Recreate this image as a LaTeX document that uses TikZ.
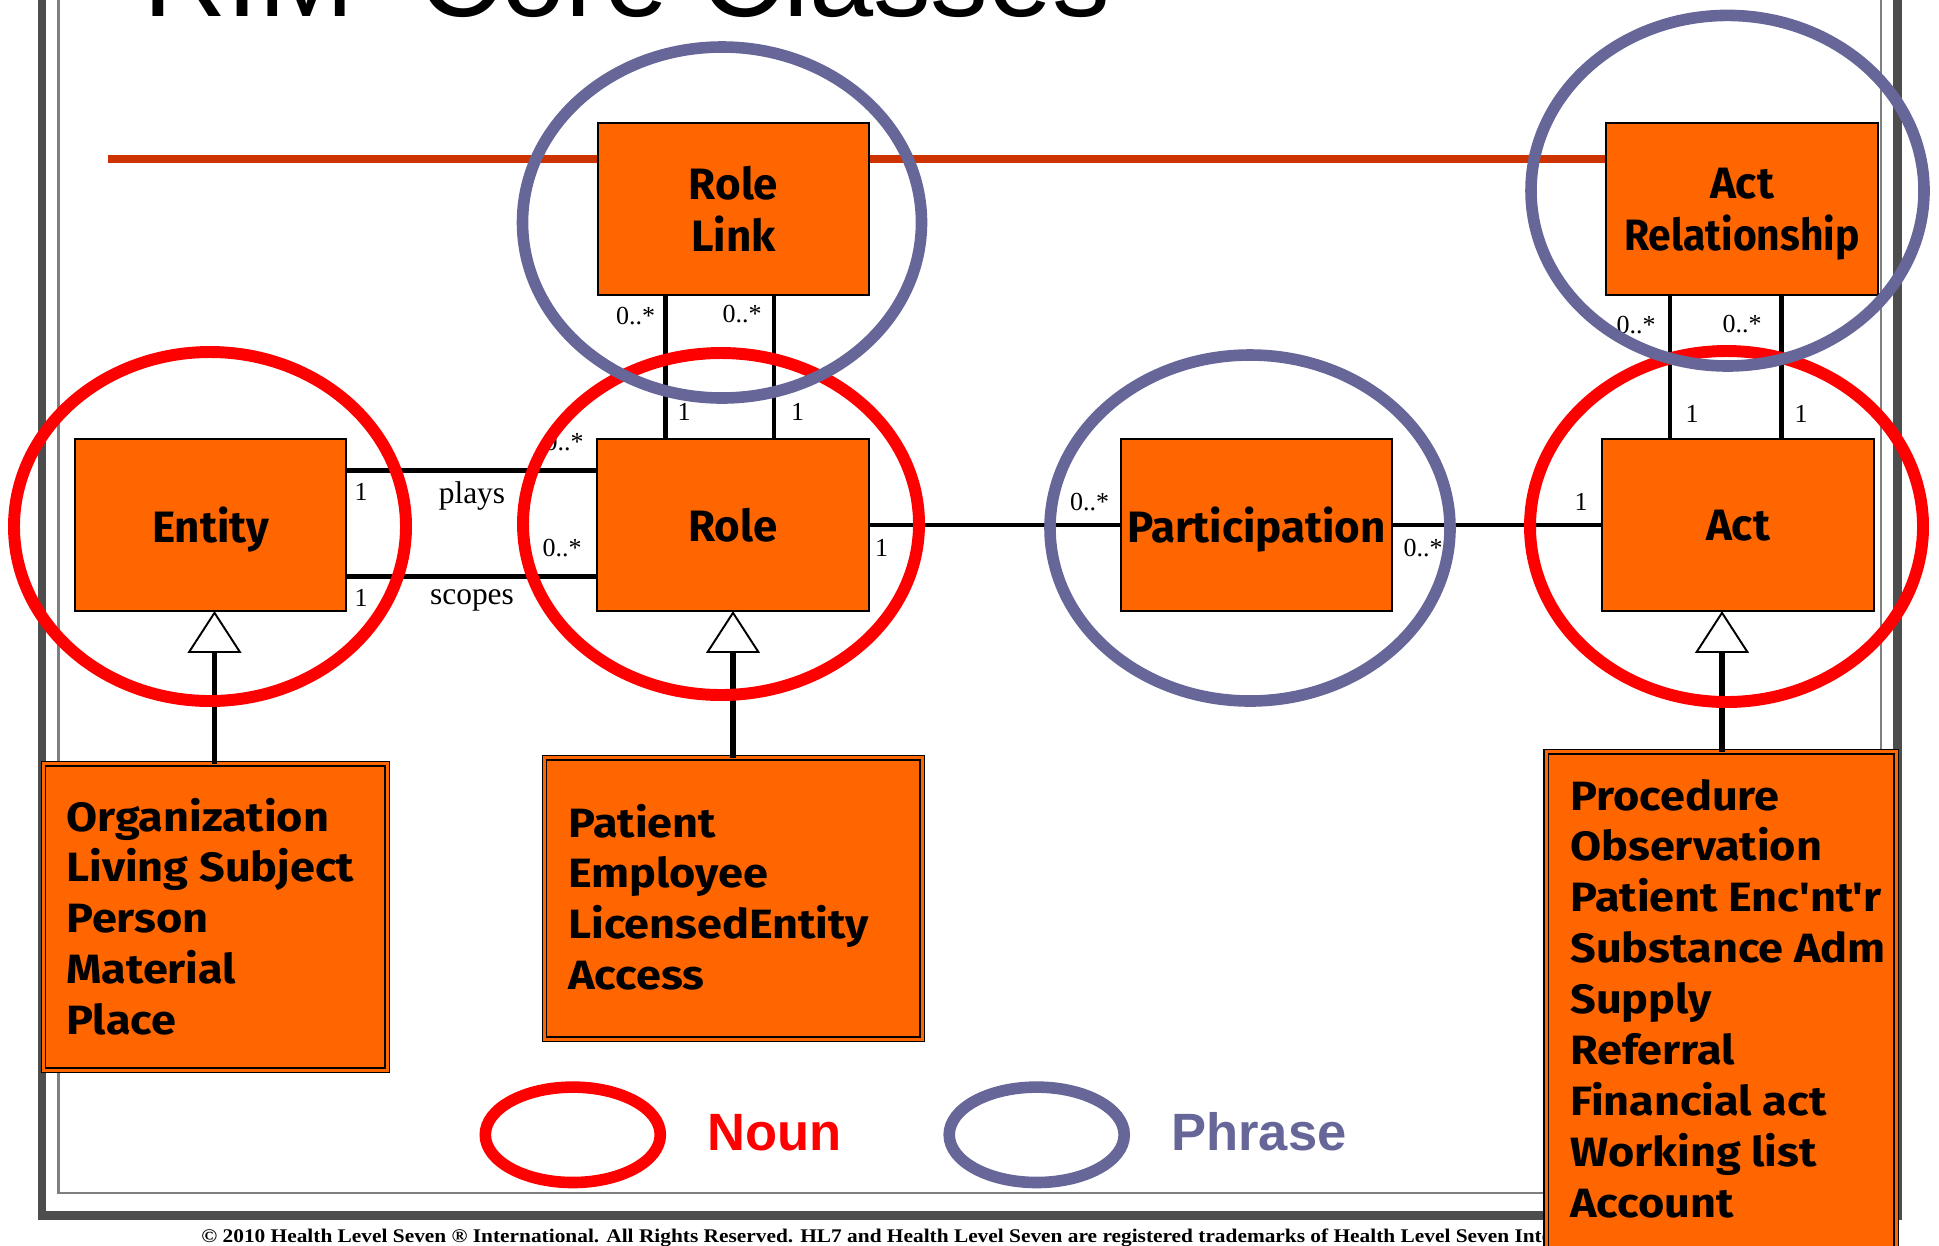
\documentclass[tikz,border=0pt]{standalone}
\usepackage{graphicx}
\usepackage{fontspec}
\setmainfont{Liberation Serif}
\newfontfamily\clsfont{Fira Sans}
\newfontfamily\legfont{Liberation Sans}
\usetikzlibrary{arrows.meta}
\definecolor{boxorange}{HTML}{FF6600}
\definecolor{nounred}{HTML}{FF0000}
\definecolor{phraseblue}{HTML}{666699}
\definecolor{rulebrown}{HTML}{CC3300}
\definecolor{framedark}{HTML}{4D4D4D}
\definecolor{framelight}{HTML}{7F7F7F}
\newcommand\listbody[1]{\scalebox{1.1}[1]{\begin{tabular}{@{}l@{}}#1\end{tabular}}}
\begin{document}
\begin{tikzpicture}[x=0.02cm,y=-0.02cm,
  cls/.style={draw=black, line width=1.14pt, fill=boxorange, outer sep=0pt,
    minimum width=5.44cm, minimum height=3.44cm, inner sep=0pt, align=center,
    font=\clsfont\bfseries\fontsize{25}{29.6}\selectfont},
  subbox/.style={draw=black, line width=0.9pt, double=boxorange, double distance=1.6pt,
    fill=boxorange, anchor=north west, outer sep=0pt, inner sep=0pt},
  subtext/.style={anchor=north west, inner sep=0pt,
    font=\clsfont\bfseries\fontsize{23.3}{29}\selectfont},
  assoc/.style={line width=2.7pt},
  gen/.style={line width=3.2pt, -{Triangle[open, fill=white, line width=1.1pt, length=23.9pt, width=30.7pt]}},
  mult/.style={inner sep=0pt, font=\fontsize{14.8}{16}\selectfont},
  rolename/.style={inner sep=0pt, anchor=base, font=\fontsize{17.9}{20}\selectfont},
  nounring/.style={draw=nounred, line width=6.8pt},
  phrasering/.style={draw=phraseblue, line width=6.6pt},
  legtext/.style={anchor=base west, inner sep=0pt, font=\legfont\bfseries\fontsize{29.9}{34}\selectfont},
]
\useasboundingbox (0,0) rectangle (1939,1245);
\clip (0,0) rectangle (1939,1245);

% slide frame
\draw[framedark, line width=5.1pt] (42,-20) -- (42,1215) -- (1897.5,1215) -- (1897.5,-20);
\draw[framelight, line width=1.2pt] (58.5,-20) -- (58.5,1193) -- (1881,1193) -- (1881,-20);

% title and rule
\draw[rulebrown, line width=4.5pt] (108,159) -- (1606,159);
\node[anchor=base west, inner sep=0pt, font=\legfont\fontsize{65.6}{70}\selectfont] (title) at (143,16.7) {RIM\ \ Core Classes};

% footer
\node[anchor=base west, inner sep=0pt, font=\bfseries\fontsize{11}{12}\selectfont] (foot) at (201,1242.7)
  {\scalebox{1.105}[1]{\textcopyright{} 2010 Health Level Seven \textregistered{} International. All Rights Reserved. HL7 and Health Level Seven are registered trademarks of Health Level Seven Inte}};

% classes
\node[cls, text depth=0pt] (E) at (210.5,525) {Entity};
\node[cls, text depth=0pt] (R) at (733,525) {Role};
\node[cls, text depth=0pt] (P) at (1256.5,525) {Participation};
\node[cls, text depth=0pt] (A) at (1738,525) {Act};
\node[cls] (RL) at (733.5,209) {Role\\Link};
\node[cls] (AR) at (1742,209) {Act\\\smash{\scalebox{0.93}[1]{Relationship}}};

% association lines
\coordinate (yplay) at (0,470.3);
\coordinate (yscope) at (0,576.7);
\coordinate (xr1) at (665.7,0);
\coordinate (xr2) at (774,0);
\coordinate (xa1) at (1670,0);
\coordinate (xa2) at (1781.7,0);
\draw[assoc] (E.east |- yplay) -- (R.west |- yplay);
\draw[assoc] (E.east |- yscope) -- (R.west |- yscope);
\draw[assoc] (R.east) -- (P.west);
\draw[assoc] (P.east) -- (A.west);
\draw[assoc] (RL.south -| xr1) -- (R.north -| xr1);
\draw[assoc] (RL.south -| xr2) -- (R.north -| xr2);
\draw[assoc] (AR.south -| xa1) -- (A.north -| xa1);
\draw[assoc] (AR.south -| xa2) -- (A.north -| xa2);

% multiplicities and role names
\node[mult] (m1) at (635.5,316) {0..*};
\node[mult] (m2) at (742,314) {0..*};
\node[mult] (m3) at (684,411.5) {1};
\node[mult] (m4) at (797.7,411.5) {1};
\node[mult] (m5) at (1636,325) {0..*};
\node[mult] (m6) at (1742,324) {0..*};
\node[mult] (m7) at (1692,414) {1};
\node[mult] (m8) at (1801,414) {1};
\node[mult] (m9) at (361,491.7) {1};
\node[mult] (m10) at (564,442) {0..*};
\node[mult] (m11) at (562,548) {0..*};
\node[mult] (m12) at (361,598) {1};
\node[mult] (m13) at (881.5,548) {1};
\node[mult] (m14) at (1089.6,501.7) {0..*};
\node[mult] (m15) at (1423,548) {0..*};
\node[mult] (m16) at (1581,502) {1};
\node[rolename] (plays) at (472,503) {plays};
\node[rolename] (scopes) at (472,604) {scopes};

% specialisation boxes
\node[subbox, minimum width=6.88cm, minimum height=6.14cm] (EL) at (43.5,763.5) {};
\node[subtext] (ELt) at (66,795) {\listbody{Organization\\Living Subject\\Person\\Material\\Place}};
\node[subbox, minimum width=7.56cm, minimum height=5.64cm] (RS) at (544.5,757.5) {};
\node[subtext] (RSt) at (568,801) {\listbody{Patient\\Employee\\LicensedEntity\\Access}};
\node[subbox, minimum width=7.006cm, minimum height=11.6cm] (AL) at (1546.2,751.8) {};
\node[subtext] (ALt) at (1570,774) {\listbody{Procedure\\Observation\\Patient Enc'nt'r\\Substance Adm\\Supply\\Referral\\Financial act\\Working list\\Account}};

% generalisation arrows
\coordinate (gE) at (214.5,0);
\coordinate (gA) at (1722,0);
\draw[gen] (EL.north -| gE) -- (E.south -| gE);
\draw[gen] (RS.north -| R.south) -- (R.south);
\draw[gen] (AL.north -| gA) -- (A.south -| gA);

% highlight rings
\draw[nounring] (210,526.5) ellipse [x radius=196, y radius=174.5];
\draw[nounring] (721,524) ellipse [x radius=198, y radius=171];
\draw[nounring] (1726.5,526.5) ellipse [x radius=196.5, y radius=175.5];
\draw[phrasering] (1250,528) ellipse [x radius=200, y radius=173];
\draw[phrasering] (722,222.5) ellipse [x radius=199.5, y radius=175.5];
\draw[phrasering] (1727.5,190.7) ellipse [x radius=196.5, y radius=175.3];

% legend
\draw[nounring, line width=6.6pt] (572.8,1134.8) ellipse [x radius=87.5, y radius=47.7];
\node[legtext, text=nounred] (noun) at (707,1150.7) {Noun};
\draw[phrasering] (1036.7,1134.8) ellipse [x radius=87.5, y radius=47.7];
\node[legtext, text=phraseblue] (phrase) at (1171,1150.7) {Phrase};
\end{tikzpicture}
\end{document}
